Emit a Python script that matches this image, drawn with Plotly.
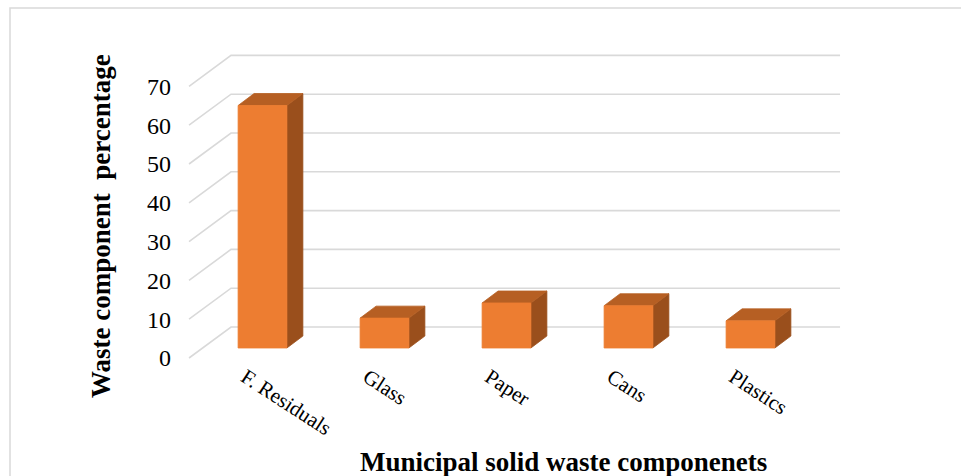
import plotly.graph_objects as go

# ---- data ----
categories = ["F. Residuals", "Glass", "Paper", "Cans", "Plastics"]
values = [62.5, 7.7, 11.6, 10.9, 7.0]
y_ticks = [0, 10, 20, 30, 40, 50, 60, 70]

# ---- 3D (oblique) geometry, in data units ----
BAR_HALF = 0.2          # half bar width (category units)
BAR_DX, BAR_DV = 0.131, 3.09     # bar depth offset
FRONT_DX, FRONT_DV = -0.344 * 0.323, -2.58   # front plane vs bar plane
BACK_DX, BACK_DV = 0.344 * 0.677, 5.41       # back wall vs bar plane
WALL_LEFT = -0.491      # left edge of bar plane
WALL_RIGHT = 4.734      # right end of back wall

FRONT_C = "#ED7D31"
TOP_C = "#B65F23"
SIDE_C = "#9A4F1C"
GRID_C = "#D9D9D9"
FONT = "Liberation Serif, Times New Roman, serif"

fig = go.Figure()

# gridlines: side-wall diagonals + back wall horizontals
gx, gy = [], []
for t in y_ticks:
    gx += [WALL_LEFT + FRONT_DX, WALL_LEFT + BACK_DX, WALL_RIGHT, None]
    gy += [t + FRONT_DV, t + BACK_DV, t + BACK_DV, None]
fig.add_trace(go.Scatter(x=gx, y=gy, mode="lines",
                         line=dict(color=GRID_C, width=1.6),
                         hoverinfo="skip", showlegend=False))

sx, sy, tx, ty, fx, fy = [], [], [], [], [], []
for i, v in enumerate(values):
    l, r = i - BAR_HALF, i + BAR_HALF
    # side face
    sx += [r, r + BAR_DX, r + BAR_DX, r, r, None]
    sy += [0, BAR_DV, v + BAR_DV, v, 0, None]
    # top face
    tx += [l, r, r + BAR_DX, l + BAR_DX, l, None]
    ty += [v, v, v + BAR_DV, v + BAR_DV, v, None]
    # front face
    fx += [l, r, r, l, l, None]
    fy += [0, 0, v, v, 0, None]

for xs, ys, c in [(sx, sy, SIDE_C), (tx, ty, TOP_C), (fx, fy, FRONT_C)]:
    fig.add_trace(go.Scatter(x=xs, y=ys, mode="lines", fill="toself",
                             fillcolor=c, line=dict(color=c, width=0.8),
                             hoverinfo="skip", showlegend=False))

L, R, T, B = 172, 880, 30, 360
W, H = 961, 476
PX_PER_X, PX_PER_V = 122.0, 3.88
X_CENTER0, V_ZERO_PX = 262.5, 348
x0 = (L - X_CENTER0) / PX_PER_X
x1 = (R - X_CENTER0) / PX_PER_X
v_top = (V_ZERO_PX - T) / PX_PER_V
v_bot = (V_ZERO_PX - B) / PX_PER_V

fig.update_layout(
    width=W, height=H,
    margin=dict(l=L, r=W - R, t=T, b=H - B),
    paper_bgcolor="white", plot_bgcolor="white",
    xaxis=dict(range=[x0, x1], showgrid=False, zeroline=False, showline=False,
               tickmode="array",
               tickvals=[i + FRONT_DX - 0.03 for i in range(len(categories))],
               ticktext=categories, tickangle=33, ticks="",
               tickfont=dict(family=FONT, size=21, color="black")),
    yaxis=dict(range=[v_bot, v_top], showgrid=False, zeroline=False, showline=False,
               tickmode="array",
               tickvals=[t + FRONT_DV for t in y_ticks],
               ticktext=[str(t) for t in y_ticks], ticks="",
               tickfont=dict(family=FONT, size=24, color="black")),
    showlegend=False,
)

def px2paper(px, py):
    return (px - L) / (R - L), (B - py) / (B - T)

ax, ay = px2paper(101, 226)
fig.add_annotation(text="<b>Waste component  percentage</b>", xref="paper", yref="paper",
                   x=ax, y=ay, xanchor="center", yanchor="middle",
                   showarrow=False, textangle=-90,
                   font=dict(family=FONT, size=27, color="black"))
bx, by = px2paper(563, 462)
fig.add_annotation(text="<b>Municipal solid waste componenets</b>", xref="paper", yref="paper",
                   x=bx, y=by, xanchor="center", yanchor="middle", showarrow=False,
                   font=dict(family=FONT, size=27, color="black"))

# chart border
b0x, b0y = px2paper(10, 8)
b1x, b1y = px2paper(1030, 520)
fig.add_shape(type="rect", xref="paper", yref="paper", x0=b0x, y0=b1y, x1=b1x, y1=b0y,
              line=dict(color=GRID_C, width=1.5), layer="below")

fig.write_html("out.html")
